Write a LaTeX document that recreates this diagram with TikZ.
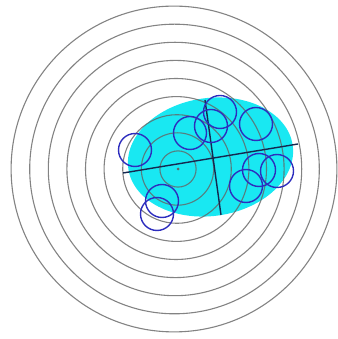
\documentclass[tikz,border=0pt]{standalone}
\usepackage{tikz}
\usetikzlibrary{calc}
\usepackage{xcolor}
\definecolor{ringgray}{RGB}{100,100,100}
\definecolor{blob}{RGB}{25,232,242}
\definecolor{shotblue}{RGB}{45,45,190}
\definecolor{axisnavy}{RGB}{20,40,80}

\begin{document}
\begin{tikzpicture}[x=1pt,y=1pt,
    ring/.style={draw=ringgray,draw opacity=0.8,line width=1.1pt},
    shot/.style={draw=shotblue,line width=1.4pt},
    axisline/.style={draw=axisnavy,line width=1.4pt}]
    \useasboundingbox (0,0) rectangle (337,339);
    \fill[blob,rotate around={8:(210.5,182)}] (210.5,182) ellipse (83 and 59);
    \foreach \k in {1,...,9}
        \draw[ring] ({178.5-0.5*\k},170) circle ({18.1*\k});
    \fill[ringgray] (178,170) circle (1.5);
    \coordinate (wl) at (123,166);
    \coordinate (wr) at (298,195);
    \coordinate (ht) at (205,239);
    \coordinate (hb) at (221,124);
    \draw[axisline] (wl) -- (wr);
    \draw[axisline] (ht) -- (hb);
    \foreach \x/\y in {135/189, 190/206, 211/213, 220/227, 256/215,
                       259/169, 277/168, 246/153, 162/138, 157/125}
        \draw[shot] (\x,\y) circle (16.5);
    \end{tikzpicture}
\end{document}
